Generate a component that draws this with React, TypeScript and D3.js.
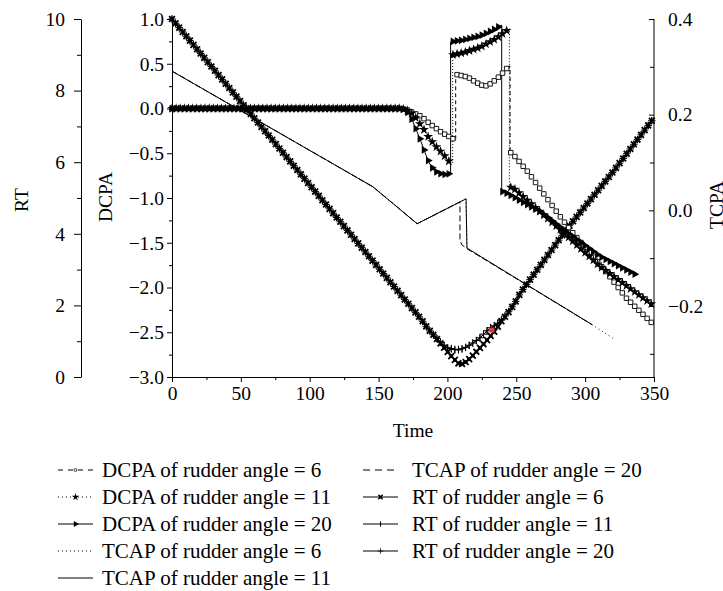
import { useEffect, useRef } from 'react';
import * as d3 from 'd3';

// Axis ticks
const timeTicks = [0, 50, 100, 150, 200, 250, 300, 350];
const timeMinor = [25, 75, 125, 175, 225, 275, 325];
const dcpaTicks = [1, 0.5, 0, -0.5, -1, -1.5, -2, -2.5, -3];
const dcpaMinor = [0.75, 0.25, -0.25, -0.75, -1.25, -1.75, -2.25, -2.75];
const rtTicks = [0, 2, 4, 6, 8, 10];
const rtMinor = [1, 3, 5, 7, 9];
const tcpaTicks = [0.4, 0.2, 0, -0.2];
const tcpaMinor = [0.3, 0.1, -0.1, -0.3];

// DCPA series (left inner axis). A repeated time is a vertical jump.
const dcpa6T = [0, 166, 170, 175, 181.5, 184.5, 190, 196, 202.6, 206, 206, 208, 211, 214, 217, 220, 223, 226, 229, 232, 235, 238, 241, 244, 245.5, 245.5, 247, 258, 267, 281, 290, 301, 316, 330, 348];
const dcpa6V = [0, 0, -0.01, -0.047, -0.092, -0.136, -0.203, -0.27, -0.326, -0.355, 0.38, 0.376, 0.365, 0.354, 0.332, 0.298, 0.276, 0.253, 0.253, 0.287, 0.32, 0.365, 0.41, 0.465, 0.47, -0.49, -0.5, -0.7, -0.89, -1.19, -1.37, -1.57, -1.84, -2.12, -2.39];

const dcpa11T = [0, 166, 169, 172.8, 176.5, 179.4, 183, 186, 189.5, 192.4, 196, 199, 201.2, 203.8, 203.8, 211.6, 223.7, 235.8, 244.2, 245, 245, 247.6, 281.8, 310.8, 349.3];
const dcpa11V = [0, 0, -0.01, -0.036, -0.092, -0.159, -0.237, -0.315, -0.382, -0.437, -0.493, -0.549, -0.593, -0.61, 0.6, 0.624, 0.684, 0.785, 0.885, 0.89, -0.88, -0.883, -1.351, -1.763, -2.198];

const dcpa20T = [0, 166, 169, 172, 175, 177.9, 180.8, 183.7, 186.6, 190.3, 194.6, 198.2, 201.9, 202.3, 202.3, 203.1, 211.6, 223.7, 233.3, 238.2, 239.4, 239.4, 241, 267.2, 286.8, 310.8, 337.7];
const dcpa20V = [0, 0, -0.01, -0.06, -0.15, -0.259, -0.37, -0.493, -0.604, -0.694, -0.727, -0.738, -0.727, -0.72, 0.744, 0.747, 0.766, 0.811, 0.877, 0.922, 0.93, -0.928, -0.93, -1.15, -1.384, -1.652, -1.864];

// TCAP series (right axis)
const tcap6T = [0, 146, 178, 213.5, 214.2, 305, 320];
const tcap6V = [0.291, 0.049, -0.028, 0.024, -0.079, -0.239, -0.267];
const tcap11T = [0, 146, 178, 213.5, 214.2, 305];
const tcap11V = [0.291, 0.049, -0.028, 0.024, -0.079, -0.239];
const tcap20T = [0, 146, 178, 209.1, 209.1, 210.5, 213.5, 305];
const tcap20V = [0.291, 0.049, -0.028, 0.0176, -0.062, -0.072, -0.079, -0.239];

// RT series (outer left axis)
const rt6T = [0, 181, 186, 191, 196, 200, 204, 208, 211, 215, 219, 222, 227, 231, 235, 239, 244, 249, 253, 287, 320, 350];
const rt6V = [10, 1.61, 1.34, 1.13, 0.89, 0.71, 0.53, 0.38, 0.36, 0.47, 0.62, 0.75, 0.95, 1.13, 1.31, 1.55, 1.79, 2.07, 2.35, 4.15, 5.72, 7.24];
const rt11T = [0, 181, 186, 191, 196, 200, 205.5, 209, 212.8, 216.4, 220, 223.7, 227.3, 231, 235, 239, 244, 249, 253, 287, 320, 350];
const rt11V = [10, 1.61, 1.34, 1.13, 0.92, 0.8, 0.754, 0.754, 0.81, 0.894, 0.986, 1.09, 1.23, 1.37, 1.45, 1.58, 1.8, 2.07, 2.35, 4.15, 5.72, 7.24];
const rt20T = [0, 181, 186, 191, 196, 200, 205.5, 209, 212.8, 216.4, 220, 223.7, 227.3, 231, 235, 239, 244, 249, 253, 287, 320, 350];
const rt20V = [10, 1.61, 1.34, 1.13, 0.93, 0.82, 0.77, 0.77, 0.82, 0.9, 0.99, 1.1, 1.24, 1.37, 1.45, 1.58, 1.8, 2.07, 2.35, 4.15, 5.72, 7.24];

// the single red point in the original
const highlightT = [232.2];
const highlightV = [1.31];

const legendLeft = [
  'DCPA of rudder angle = 6',
  'DCPA of rudder angle = 11',
  'DCPA of rudder angle = 20',
  'TCAP of rudder angle = 6',
  'TCAP of rudder angle = 11',
];
const legendRight = [
  'TCAP of rudder angle = 20',
  'RT of rudder angle = 6',
  'RT of rudder angle = 11',
  'RT of rudder angle = 20',
];

type Pt = [number, number];
const zip = (t: number[], v: number[]): Pt[] => t.map((d, i) => [d, v[i]]);

// split a series at vertical jumps, so markers sit only on the continuous parts
function pieces(pts: Pt[]): Pt[][] {
  const out: Pt[][] = [[pts[0]]];
  for (let i = 1; i < pts.length; i++) {
    if (pts[i][0] === pts[i - 1][0]) out.push([pts[i]]);
    else out[out.length - 1].push(pts[i]);
  }
  return out.filter(p => p.length > 1);
}

// marker positions at a fixed time step along each continuous piece
function markerPts(pts: Pt[], step: number): Pt[] {
  const res: Pt[] = [];
  pieces(pts).forEach(p => {
    const f = d3.scaleLinear().domain(p.map(d => d[0])).range(p.map(d => d[1]));
    const a = p[0][0], b = p[p.length - 1][0];
    for (let t = Math.ceil(a / step) * step; t <= b; t += step) res.push([t, f(t)]);
  });
  return res;
}

const W = 723, H = 591;
const margin = { top: 19, right: 69, bottom: 214, left: 172 };
const FONT = '"Liberation Serif", "Times New Roman", serif';

export default function App() {
  const ref = useRef<SVGSVGElement>(null);

  useEffect(() => {
    const svg = d3.select(ref.current);
    svg.selectAll('*').remove();

    const x0 = margin.left, x1 = W - margin.right;
    const y0 = H - margin.bottom, y1 = margin.top;

    const x = d3.scaleLinear().domain([0, 350]).range([x0, x1]);
    const yD = d3.scaleLinear().domain([-3, 1]).range([y0, y1]);
    const yR = d3.scaleLinear().domain([0, 10]).range([y0, y1]);
    // right axis labels are evenly spaced from 0.4 down to -0.2
    const yT = d3.scaleLinear().domain([0.4, -0.2]).range([y1, 306]);

    const styleAxis = (g: any) => {
      g.attr('font-family', FONT).attr('font-size', 19.5);
      g.selectAll('path, line').attr('stroke', '#000').attr('stroke-width', 1);
      g.selectAll('text').attr('fill', '#000');
    };

    // bottom axis
    svg.append('g')
      .attr('transform', `translate(0,${y0})`)
      .call(d3.axisBottom(x).tickValues(timeTicks).tickSize(5).tickSizeOuter(0).tickPadding(4))
      .call(styleAxis);
    svg.append('g')
      .attr('transform', `translate(0,${y0})`)
      .call(d3.axisBottom(x).tickValues(timeMinor).tickSize(3).tickFormat(() => ''))
      .call(g => g.select('.domain').remove())
      .call(styleAxis);

    // DCPA axis
    svg.append('g')
      .attr('transform', `translate(${x0},0)`)
      .call(d3.axisLeft(yD).tickValues(dcpaTicks).tickSize(5).tickSizeOuter(0).tickPadding(3).tickFormat(d3.format('.1f')))
      .call(styleAxis);
    svg.append('g')
      .attr('transform', `translate(${x0},0)`)
      .call(d3.axisLeft(yD).tickValues(dcpaMinor).tickSize(3).tickFormat(() => ''))
      .call(g => g.select('.domain').remove())
      .call(styleAxis);

    // RT axis
    const rtX = 81;
    svg.append('g')
      .attr('transform', `translate(${rtX},0)`)
      .call(d3.axisLeft(yR).tickValues(rtTicks).tickSize(7).tickSizeOuter(0).tickPadding(9))
      .call(styleAxis);
    svg.append('g')
      .attr('transform', `translate(${rtX},0)`)
      .call(d3.axisLeft(yR).tickValues(rtMinor).tickSize(4).tickFormat(() => ''))
      .call(g => g.select('.domain').remove())
      .call(styleAxis);

    // TCPA axis (ticks point into the plot)
    svg.append('g')
      .attr('transform', `translate(${x1},0)`)
      .call(d3.axisRight(yT).tickValues(tcpaTicks).tickSize(-5).tickSizeOuter(0).tickPadding(14).tickFormat(d3.format('.1f')))
      .call(g => g.select('.domain').attr('d', `M0,${y1}V${y0}`))
      .call(styleAxis);
    svg.append('g')
      .attr('transform', `translate(${x1},0)`)
      .call(d3.axisRight(yT).tickValues(tcpaMinor).tickSize(-4).tickFormat(() => ''))
      .call(g => g.select('.domain').remove())
      .call(styleAxis);

    // axis titles
    const title = (tx: number, ty: number, rot: number, s: string) =>
      svg.append('text')
        .attr('transform', `translate(${tx},${ty}) rotate(${rot})`)
        .attr('text-anchor', 'middle')
        .attr('font-family', FONT).attr('font-size', 19.5)
        .text(s);
    title((x0 + x1) / 2, 437, 0, 'Time');
    title(112, 197, -90, 'DCPA');
    title(28, 200, -90, 'RT');
    title(723, 205, -90, 'TCPA');

    const plot = svg.append('g');

    const lineD = d3.line<Pt>().x(d => x(d[0])).y(d => yD(d[1]));
    const lineR = d3.line<Pt>().x(d => x(d[0])).y(d => yR(d[1]));
    const lineT = d3.line<Pt>().x(d => x(d[0])).y(d => yT(d[1]));

    const sym = {
      square: d3.symbol(d3.symbolSquare, 20)(),
      star: d3.symbol(d3.symbolStar, 30)(),
      tri: d3.symbol(d3.symbolTriangle, 26)(),
      cross: d3.symbol(d3.symbolX, 24)(),
      plus: d3.symbol(d3.symbolPlus, 20)(),
      circle: d3.symbol(d3.symbolCircle, 12)(),
    };

    type Mark = 'square' | 'star' | 'tri' | 'rt6' | 'rt11' | 'rt20' | 'circle';
    const drawMark = (g: any, px: number, py: number, m: Mark, k = 1) => {
      const t = `translate(${px},${py}) scale(${k})`;
      if (m === 'square') g.append('path').attr('d', sym.square).attr('transform', t).attr('fill', '#fff').attr('stroke', '#000').attr('stroke-width', 0.9);
      else if (m === 'circle') g.append('path').attr('d', sym.circle).attr('transform', t).attr('fill', '#fff').attr('stroke', '#000').attr('stroke-width', 1);
      else if (m === 'star') g.append('path').attr('d', sym.star).attr('transform', t).attr('fill', '#000');
      else if (m === 'tri') g.append('path').attr('d', sym.tri).attr('transform', `${t} rotate(90)`).attr('fill', '#000');
      else if (m === 'rt6') {
        g.append('path').attr('d', sym.cross).attr('transform', t).attr('stroke', '#000').attr('stroke-width', 1.8).attr('fill', 'none');
        g.append('rect').attr('x', px - 1.8 * k).attr('y', py - 1.8 * k).attr('width', 3.6 * k).attr('height', 3.6 * k).attr('fill', '#000');
      } else if (m === 'rt11') g.append('path').attr('d', `M${px},${py - 3.5 * k}V${py + 3.5 * k}`).attr('stroke', '#000').attr('stroke-width', 1);
      else g.append('path').attr('d', sym.plus).attr('transform', t).attr('stroke', '#000').attr('stroke-width', 1).attr('fill', 'none');
    };

    // TCAP lines
    plot.append('path').attr('d', lineT(zip(tcap20T, tcap20V))).attr('fill', 'none').attr('stroke', '#000').attr('stroke-width', 1).attr('stroke-dasharray', '6,3');
    plot.append('path').attr('d', lineT(zip(tcap6T, tcap6V))).attr('fill', 'none').attr('stroke', '#000').attr('stroke-width', 1).attr('stroke-dasharray', '1,3');
    plot.append('path').attr('d', lineT(zip(tcap11T, tcap11V))).attr('fill', 'none').attr('stroke', '#000').attr('stroke-width', 1);

    // RT lines and markers
    const rtSeries: [number[], number[], Mark][] = [[rt6T, rt6V, 'rt6'], [rt11T, rt11V, 'rt11'], [rt20T, rt20V, 'rt20']];
    rtSeries.forEach(([t, v, m]) => {
      const pts = zip(t, v);
      plot.append('path').attr('d', lineR(pts)).attr('fill', 'none').attr('stroke', '#000').attr('stroke-width', 1);
      markerPts(pts, 2.6).forEach(d => drawMark(plot, x(d[0]), yR(d[1]), m));
    });

    // DCPA lines and markers
    const dSeries: [number[], number[], Mark, string][] = [
      [dcpa6T, dcpa6V, 'square', '4,3'],
      [dcpa11T, dcpa11V, 'star', '1,2'],
      [dcpa20T, dcpa20V, 'tri', ''],
    ];
    dSeries.forEach(([t, v, m, dash]) => {
      const pts = zip(t, v);
      plot.append('path').attr('d', lineD(pts)).attr('fill', 'none').attr('stroke', '#000').attr('stroke-width', 1).attr('stroke-dasharray', dash || null);
    });
    dSeries.forEach(([t, v, m]) => {
      markerPts(zip(t, v), 3).forEach(d => drawMark(plot, x(d[0]), yD(d[1]), m));
    });

    // red point
    highlightT.forEach((t, i) => {
      plot.append('rect').attr('x', x(t) - 2.5).attr('y', yR(highlightV[i]) - 2.5).attr('width', 5).attr('height', 5).attr('fill', '#e8343c');
    });

    // legend
    const rowY = (i: number) => 470 + i * 27;
    const legendItem = (lx: number, tx: number, i: number, label: string, dash: string, m: Mark | null) => {
      const g = svg.append('g');
      const cy = rowY(i);
      g.append('path').attr('d', `M${lx},${cy}H${lx + 35}`).attr('stroke', '#000').attr('stroke-width', 1.2).attr('stroke-dasharray', dash || null).attr('fill', 'none');
      if (m) drawMark(g, lx + 17.5, cy, m, 0.75);
      g.append('text').attr('x', tx).attr('y', cy).attr('dy', '0.35em').attr('font-family', FONT).attr('font-size', 21).text(label);
    };
    const leftStyles: [string, Mark | null][] = [['5,5', 'circle'], ['1,3', 'star'], ['', 'tri'], ['1,3', null], ['', null]];
    const rightStyles: [string, Mark | null][] = [['7,5', null], ['', 'rt6'], ['', 'rt11'], ['', 'rt20']];
    legendLeft.forEach((s, i) => legendItem(58, 102, i, s, leftStyles[i][0], leftStyles[i][1]));
    legendRight.forEach((s, i) => legendItem(363, 412, i, s, rightStyles[i][0], rightStyles[i][1]));
  }, []);

  return (
    <svg ref={ref} width={W} height={H} viewBox={`0 0 ${W} ${H}`}
      style={{ position: 'absolute', left: 0, top: 0, background: '#fff' }} />
  );
}
